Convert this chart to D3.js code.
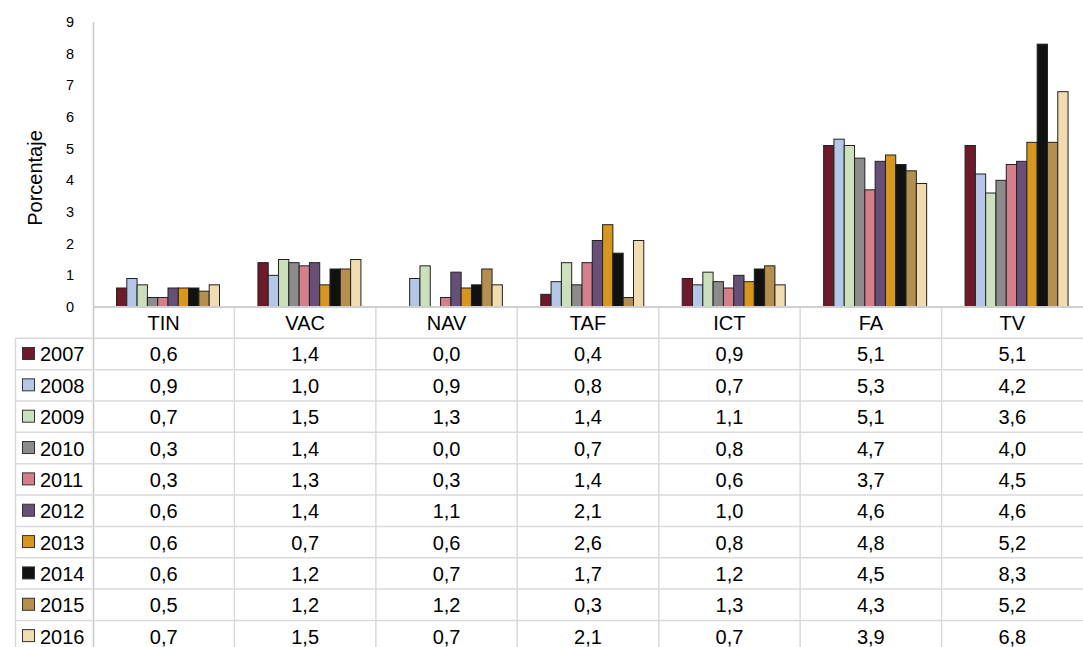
<!DOCTYPE html>
<html><head><meta charset="utf-8">
<script src="https://cdn.jsdelivr.net/npm/d3@7"></script>
<style>
html,body{margin:0;padding:0;background:#fff;}
svg{display:block;font-family:"Liberation Sans",Arial,Helvetica,sans-serif;}
</style></head>
<body><svg id="c" width="1083" height="647"></svg>
<script>
const categories = ["TIN","VAC","NAV","TAF","ICT","FA","TV"];
const years = ["2007","2008","2009","2010","2011","2012","2013","2014","2015","2016"];
const v2007 = [0.6,1.4,0.0,0.4,0.9,5.1,5.1];
const v2008 = [0.9,1.0,0.9,0.8,0.7,5.3,4.2];
const v2009 = [0.7,1.5,1.3,1.4,1.1,5.1,3.6];
const v2010 = [0.3,1.4,0.0,0.7,0.8,4.7,4.0];
const v2011 = [0.3,1.3,0.3,1.4,0.6,3.7,4.5];
const v2012 = [0.6,1.4,1.1,2.1,1.0,4.6,4.6];
const v2013 = [0.6,0.7,0.6,2.6,0.8,4.8,5.2];
const v2014 = [0.6,1.2,0.7,1.7,1.2,4.5,8.3];
const v2015 = [0.5,1.2,1.2,0.3,1.3,4.3,5.2];
const v2016 = [0.7,1.5,0.7,2.1,0.7,3.9,6.8];
const yTicks = [0,1,2,3,4,5,6,7,8,9];
const colors = ["#6e1a2a","#b4c7e7","#cde0bd","#8c8c8c","#d57f8c","#675078","#d7961d","#111111","#b48f50","#f0dcb0"];

const series = [v2007,v2008,v2009,v2010,v2011,v2012,v2013,v2014,v2015,v2016];
const svg = d3.select("#c");

const x = d3.scaleBand().domain(categories).range([93, 1083]).paddingInner(0).paddingOuter(0);
const y = d3.scaleLinear().domain([0, 9]).range([307, 22]);
const inner = d3.scaleBand().domain(years).range([23.5, 126.5]).padding(0);

const gridCol = "#dadada";

// Bars
const g = svg.append("g");
categories.forEach((cat, ci) => {
  years.forEach((yr, yi) => {
    const val = series[yi][ci];
    if (val <= 0) return;
    g.append("rect")
      .attr("x", x(cat) + inner(yr))
      .attr("y", y(val))
      .attr("width", inner.bandwidth())
      .attr("height", y(0) - y(val))
      .attr("fill", colors[yi])
      .attr("stroke", "#222")
      .attr("stroke-width", 1);
  });
});

// Y axis
const yAxis = d3.axisLeft(y).tickValues(yTicks).tickSize(0).tickPadding(19).tickFormat(d3.format("d"));
const ya = svg.append("g").attr("transform", "translate(93,0)").call(yAxis);
ya.select(".domain").remove();
ya.selectAll("text").attr("font-size", 14.5).attr("fill", "#000").attr("font-family", "Liberation Sans, Arial, sans-serif");
svg.append("line").attr("x1", 93.5).attr("x2", 93.5).attr("y1", 22).attr("y2", 647).attr("stroke", "#c8c8c8").attr("stroke-width", 1.5);

// Axis title
svg.append("text").attr("transform", "translate(42,178) rotate(-90)")
  .attr("text-anchor", "middle").attr("font-size", 20).text("Porcentaje");

// Table
const rowH = 31.35;
const top0 = 307;
const hdrBottom = 338.3;
const t = svg.append("g");
svg.append("line").attr("x1", 93).attr("x2", 1083).attr("y1", 307).attr("y2", 307).attr("stroke", "#d0d0d0").attr("stroke-width", 2);
for (let i = 0; i <= years.length; i++) {
  const yy = hdrBottom + i * rowH;
  t.append("line").attr("x1", 15).attr("x2", 1083).attr("y1", yy).attr("y2", yy).attr("stroke", gridCol).attr("stroke-width", 1.5);
}
t.append("line").attr("x1", 15.5).attr("x2", 15.5).attr("y1", hdrBottom).attr("y2", 647).attr("stroke", gridCol).attr("stroke-width", 1.5);
categories.forEach((cat, ci) => {
  if (ci === 0) return;
  t.append("line").attr("x1", x(cat)).attr("x2", x(cat)).attr("y1", top0).attr("y2", 647).attr("stroke", gridCol).attr("stroke-width", 1.5);
});
categories.forEach(cat => {
  t.append("text").attr("x", x(cat) + x.bandwidth() / 2).attr("y", 323)
    .attr("text-anchor", "middle").attr("dominant-baseline", "central").attr("font-size", 20).text(cat);
});
const fmt = v => v.toFixed(1).replace(".", ",");
years.forEach((yr, yi) => {
  const cy = hdrBottom + yi * rowH + rowH / 2;
  t.append("rect").attr("x", 22.5).attr("y", cy - 6.5).attr("width", 12).attr("height", 12)
    .attr("fill", colors[yi]).attr("stroke", "#333").attr("stroke-width", 1);
  t.append("text").attr("x", 40).attr("y", cy + 0.5).attr("dominant-baseline", "central").attr("font-size", 20).text(yr);
  categories.forEach((cat, ci) => {
    t.append("text").attr("x", x(cat) + x.bandwidth() / 2).attr("y", cy + 0.5)
      .attr("text-anchor", "middle").attr("dominant-baseline", "central").attr("font-size", 20).text(fmt(series[yi][ci]));
  });
});
</script></body></html>
